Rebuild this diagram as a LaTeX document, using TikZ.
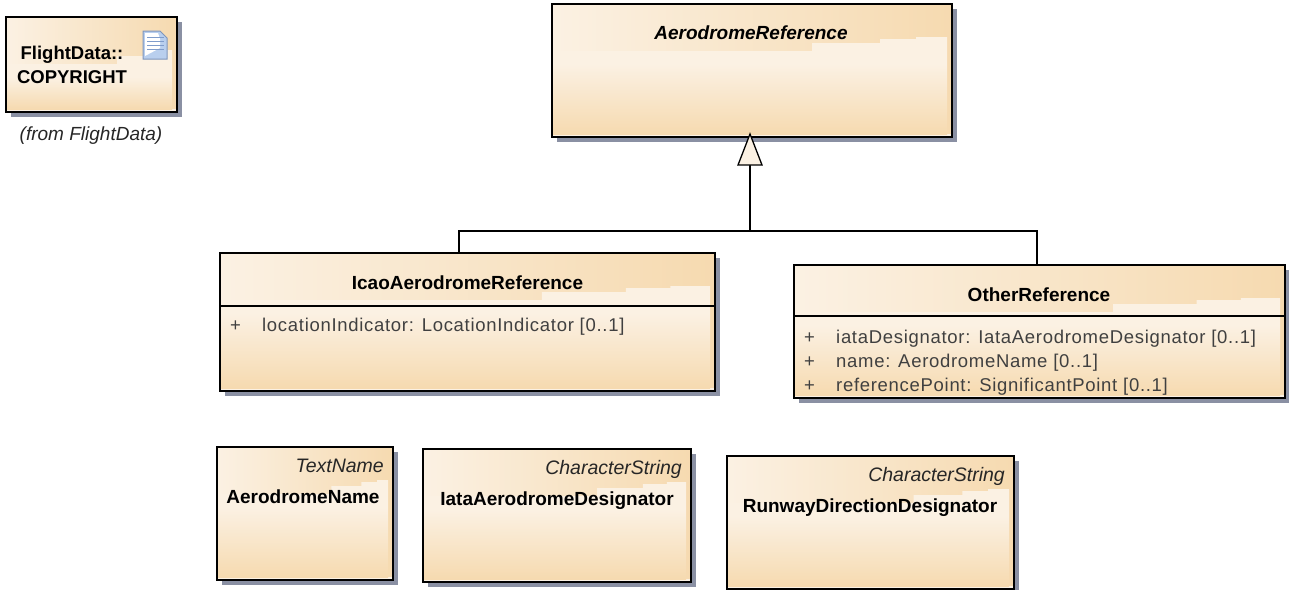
\documentclass[tikz,border=0pt]{standalone}
\usepackage{fontspec}
\setmainfont{Liberation Sans}
\newfontfamily\attrfont[LetterSpace=3.8]{Liberation Sans}
\usepackage{tikz}
\usetikzlibrary{calc,shadows}

\definecolor{boxlight}{HTML}{FBF1E3}
\definecolor{boxtan}{HTML}{F6DAB0}
\definecolor{boxshadow}{HTML}{8A90A3}
\definecolor{attrgray}{HTML}{404040}
\definecolor{iconblue}{HTML}{B9CFEE}
\definecolor{iconline}{HTML}{7F9CCB}

\tikzset{
  umlbox/.style={draw=black, line width=1.3pt, inner sep=0pt, outer sep=0pt,
    general shadow={shadow xshift=5pt, shadow yshift=-5pt, fill=boxshadow},
    path picture={
      \shade[left color=boxlight, right color=boxtan] (path picture bounding box.north west) rectangle (path picture bounding box.south east);
      \fill[boxlight] ([yshift=3pt]path picture bounding box.south west) rectangle (path picture bounding box.south east);
      \fill[boxlight]
        ([yshift=-47pt]path picture bounding box.north west)
        -- ($([yshift=-47pt]path picture bounding box.north west)!.65!([yshift=-47pt]path picture bounding box.north east)$)
        |- ($([yshift=-39pt]path picture bounding box.north west)!.82!([yshift=-39pt]path picture bounding box.north east)$)
        |- ($([yshift=-35pt]path picture bounding box.north west)!.91!([yshift=-35pt]path picture bounding box.north east)$)
        |- ([xshift=-5pt,yshift=-33pt]path picture bounding box.north east)
        -- ([xshift=-5pt,yshift=-60pt]path picture bounding box.north east)
        -- ([yshift=-60pt]path picture bounding box.north west) -- cycle;
      \shade[top color=boxlight, bottom color=boxtan]
        ([yshift=-60pt]path picture bounding box.north west) rectangle ([xshift=-5pt,yshift=3pt]path picture bounding box.south east);
    }},
  boxline/.style={draw=black, line width=1.2pt},
  assoc/.style={draw=black, line width=1.3pt},
  titletext/.style={inner sep=0pt, font=\fontsize{19}{23}\selectfont\bfseries, text=black},
  stereotext/.style={inner sep=0pt, font=\fontsize{19.5}{23}\selectfont\itshape, text=black!85},
  attrtext/.style={inner sep=0pt, font=\fontsize{18.5}{23}\attrfont, text=attrgray}
}

\begin{document}
\begin{tikzpicture}[x=1pt,y=-1pt]
\useasboundingbox (0,0) rectangle (1289,589);

% Copyright note
\node[umlbox, minimum width=171pt, minimum height=95pt] (copyrightbox) at (91.5,64.5) {};
\node[titletext, align=center, font=\fontsize{18.5}{24}\selectfont\bfseries] (copyrighttitle) at (72,65) {FlightData::\\COPYRIGHT};
\node[stereotext, font=\fontsize{19}{23}\selectfont\itshape] (copyrightfrom) at (91,136) {(from FlightData)};

% Note icon
\draw[fill=iconblue, draw=iconline!80!gray, line width=1pt] (143,31) -- (160,31) -- (167,38) -- (167,59) -- (143,59) -- cycle;
\fill[white] (145,33) -- (158,33) -- (160,39) -- (160,48) -- (145,56) -- cycle;
\foreach \ypos in {37,41,45,49} {
  \draw[iconline, line width=1pt] (147,\ypos) -- (164,\ypos);
}

% Abstract parent
\node[umlbox, minimum width=400pt, minimum height=133pt] (aerobox) at (752,70.5) {};
\node[titletext, font=\fontsize{19}{23}\selectfont\bfseries\itshape, anchor=base] (aerotitle) at (751,39) {AerodromeReference};

% Subclasses
\node[umlbox, minimum width=495pt, minimum height=138pt] (icaobox) at (467.5,322) {};
\node[titletext, anchor=base] (icaotitle) at (467.5,289) {IcaoAerodromeReference};
\draw[boxline] ([yshift=-53pt]icaobox.north west) -- ([yshift=-53pt]icaobox.north east);
\node[attrtext, anchor=base west] (icaoplus) at (230,331) {+};
\node[attrtext, anchor=base west] (icaoattr) at (262,331) {locationIndicator: LocationIndicator [0..1]};

\node[umlbox, minimum width=491pt, minimum height=133pt] (otherbox) at (1039.5,331.5) {};
\node[titletext, anchor=base] (othertitle) at (1039,301) {OtherReference};
\draw[boxline] ([yshift=-51pt]otherbox.north west) -- ([yshift=-51pt]otherbox.north east);
\node[attrtext, anchor=base west] (otherplusa) at (804,343) {+};
\node[attrtext, anchor=base west] (otherattra) at (836,343) {iataDesignator: IataAerodromeDesignator [0..1]};
\node[attrtext, anchor=base west] (otherplusb) at (804,367) {+};
\node[attrtext, anchor=base west] (otherattrb) at (836,367) {name: AerodromeName [0..1]};
\node[attrtext, anchor=base west] (otherplusc) at (804,391) {+};
\node[attrtext, anchor=base west] (otherattrc) at (836,391) {referencePoint: SignificantPoint [0..1]};

% Data types
\node[umlbox, minimum width=176pt, minimum height=133pt] (namebox) at (305,513.5) {};
\node[stereotext, anchor=base east] (namestereo) at (384,472) {TextName};
\node[titletext, anchor=base] (nametitle) at (303,503) {AerodromeName};

\node[umlbox, minimum width=268pt, minimum height=133pt] (iatabox) at (557,515.5) {};
\node[stereotext, anchor=base east] (iatastereo) at (682,474) {CharacterString};
\node[titletext, anchor=base] (iatatitle) at (557,505) {IataAerodromeDesignator};

\node[umlbox, minimum width=287pt, minimum height=133pt] (runwaybox) at (870.5,522.5) {};
\node[stereotext, anchor=base east] (runwaystereo) at (1005,481) {CharacterString};
\node[titletext, anchor=base] (runwaytitle) at (870,512) {RunwayDirectionDesignator};

% Generalization
\coordinate (branch) at (750,231);
\draw[assoc] (icaobox.north -| 459,0) |- (branch) -| (otherbox.north -| 1037,0);
\draw[assoc] (branch) -- (750,160);
\draw[assoc, fill=boxlight, line join=miter] (750,134) -- (762,165) -- (738,165) -- cycle;

\end{tikzpicture}
\end{document}
